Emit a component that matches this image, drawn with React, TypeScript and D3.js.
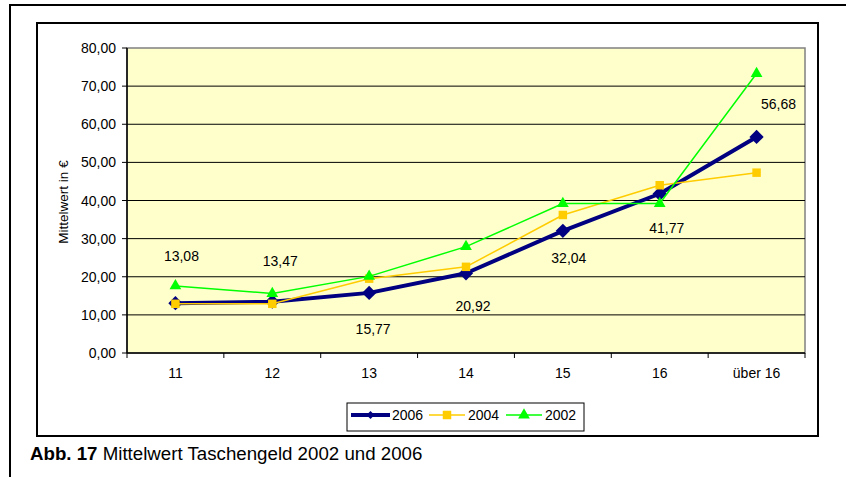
import React, { useEffect, useRef } from 'react'
import * as d3 from 'd3'

// data
const categories = ['11', '12', '13', '14', '15', '16', 'über 16']
const values2006 = [13.08, 13.47, 15.77, 20.92, 32.04, 41.77, 56.68]
const values2004 = [12.9, 12.9, 19.5, 22.6, 36.2, 44.0, 47.3]
const values2002 = [17.6, 15.6, 20.1, 27.9, 39.2, 39.2, 73.3]
const yTicks = [0, 10, 20, 30, 40, 50, 60, 70, 80]

// where Excel put the 2006 data labels, relative to the point
const labelOffsets = [[6, -47], [8, -41], [4, 36], [7, 33], [6, 27], [7, 34], [22, -33]]

const FONT = '"Liberation Sans", Arial, sans-serif'
const W = 846
const H = 477

const de = d3.formatLocale({ decimal: ',', thousands: '.', grouping: [3], currency: ['', '€'] })
const fmt = de.format('.2f')

const App = () => {
    const ref = useRef<SVGSVGElement | null>(null)

    useEffect(() => {
        const svg = d3.select(ref.current)
        svg.selectAll('*').remove()

        const left = 127, right = 805, top = 48, bottom = 353

        const xScale = d3.scaleBand().domain(categories).range([left, right])
        const yScale = d3.scaleLinear().domain([0, 80]).range([bottom, top])
        const cx = (c: string) => (xScale(c) as number) + xScale.bandwidth() / 2

        svg.append('rect').attr('width', W).attr('height', H).attr('fill', '#fff')

        // outer frame (top + left only are visible)
        svg.append('path')
            .attr('d', `M10,${H + 5} L10,5 L${W + 5},5`)
            .attr('fill', 'none')
            .attr('stroke', '#000')
            .attr('stroke-width', 2)

        // chart frame
        svg.append('rect')
            .attr('x', 37).attr('y', 23)
            .attr('width', 818 - 37).attr('height', 436 - 23)
            .attr('fill', '#fff')
            .attr('stroke', '#000')
            .attr('stroke-width', 2)

        // plot area
        svg.append('rect')
            .attr('x', left).attr('y', top)
            .attr('width', right - left).attr('height', bottom - top)
            .attr('fill', '#FFFFCC')
            .attr('stroke', '#808080')
            .attr('stroke-width', 1.5)

        const g = svg.append('g')

        g.selectAll('.grid')
            .data(yTicks.filter(t => t > 0 && t < 80))
            .join('line')
            .attr('x1', left).attr('x2', right)
            .attr('y1', d => yScale(d)).attr('y2', d => yScale(d))
            .attr('stroke', '#000')
            .attr('stroke-width', 1)

        // y axis
        g.append('line')
            .attr('x1', left).attr('x2', left)
            .attr('y1', top).attr('y2', bottom)
            .attr('stroke', '#000').attr('stroke-width', 1.5)
        g.selectAll('.ytick')
            .data(yTicks)
            .join('line')
            .attr('x1', left - 5).attr('x2', left)
            .attr('y1', d => yScale(d)).attr('y2', d => yScale(d))
            .attr('stroke', '#000')
        g.selectAll('.ylab')
            .data(yTicks)
            .join('text')
            .attr('x', 116)
            .attr('y', d => yScale(d))
            .attr('dominant-baseline', 'central')
            .attr('text-anchor', 'end')
            .attr('font-family', FONT)
            .attr('font-size', 14)
            .attr('fill', '#000')
            .text(d => fmt(d))

        g.append('text')
            .attr('transform', 'translate(63,202) rotate(-90)')
            .attr('text-anchor', 'middle')
            .attr('dominant-baseline', 'central')
            .attr('font-family', FONT)
            .attr('font-size', 13.5)
            .text('Mittelwert in €')

        // x axis
        g.append('line')
            .attr('x1', left).attr('x2', right)
            .attr('y1', bottom).attr('y2', bottom)
            .attr('stroke', '#000').attr('stroke-width', 1.5)
        g.selectAll('.xtick')
            .data([...categories.map(c => xScale(c) as number), right])
            .join('line')
            .attr('x1', d => d).attr('x2', d => d)
            .attr('y1', bottom).attr('y2', bottom + 5)
            .attr('stroke', '#000')
        g.selectAll('.xlab')
            .data(categories)
            .join('text')
            .attr('x', d => cx(d))
            .attr('y', 373)
            .attr('text-anchor', 'middle')
            .attr('dominant-baseline', 'central')
            .attr('font-family', FONT)
            .attr('font-size', 14)
            .text(d => d)

        const line = d3.line<number>()
            .x((_, i) => cx(categories[i]))
            .y(d => yScale(d))

        const diamond = d3.symbol().type(d3.symbolDiamond2).size(130)
        const square = d3.symbol().type(d3.symbolSquare).size(72)
        const triangle = d3.symbol().type(d3.symbolTriangle).size(60)

        const series = [
            { values: values2006, color: '#000080', width: 4, symbol: diamond },
            { values: values2004, color: '#FFCC00', width: 1.5, symbol: square },
            { values: values2002, color: '#00FF00', width: 1.5, symbol: triangle },
        ]

        series.forEach(s => {
            g.append('path')
                .datum(s.values)
                .attr('d', line)
                .attr('fill', 'none')
                .attr('stroke', s.color)
                .attr('stroke-width', s.width)
                .attr('stroke-linejoin', 'round')
            g.append('g')
                .selectAll('path')
                .data(s.values)
                .join('path')
                .attr('transform', (d, i) => `translate(${cx(categories[i])},${yScale(d)})`)
                .attr('d', s.symbol())
                .attr('fill', s.color)
        })

        // 2006 data labels
        g.selectAll('.dlab')
            .data(values2006)
            .join('text')
            .attr('x', (d, i) => cx(categories[i]) + labelOffsets[i][0])
            .attr('y', (d, i) => yScale(d) + labelOffsets[i][1])
            .attr('text-anchor', 'middle')
            .attr('dominant-baseline', 'central')
            .attr('font-family', FONT)
            .attr('font-size', 14)
            .text(d => fmt(d))

        // legend
        const lg = svg.append('g')
        lg.append('rect')
            .attr('x', 347).attr('y', 403)
            .attr('width', 584 - 347).attr('height', 431 - 403)
            .attr('fill', '#fff')
            .attr('stroke', '#000')
            .attr('stroke-width', 1)
        const legendNames = ['2006', '2004', '2002']
        const legendX = [351, 429, 506]
        series.forEach((s, i) => {
            const x0 = legendX[i]
            const ly = 415
            lg.append('line')
                .attr('x1', x0).attr('x2', x0 + (i === 0 ? 39 : 36))
                .attr('y1', ly).attr('y2', ly)
                .attr('stroke', s.color)
                .attr('stroke-width', s.width)
            lg.append('path')
                .attr('transform', `translate(${x0 + (i === 0 ? 19.5 : 18)},${ly})`)
                .attr('d', (i === 0 ? d3.symbol().type(d3.symbolDiamond2).size(40) : s.symbol)())
                .attr('fill', s.color)
            lg.append('text')
                .attr('x', x0 + (i === 0 ? 41 : 39))
                .attr('y', ly)
                .attr('dominant-baseline', 'central')
                .attr('font-family', FONT)
                .attr('font-size', 14)
                .text(legendNames[i])
        })

        // caption
        const cap = svg.append('text')
            .attr('x', 30)
            .attr('y', 460)
            .attr('font-family', FONT)
            .attr('font-size', 18.7)
        cap.append('tspan').attr('font-weight', 'bold').text('Abb. 17')
        cap.append('tspan').text(' Mittelwert Taschengeld 2002 und 2006')
    }, [])

    return (
        <div style={{ position: 'absolute', left: 0, top: 0, width: W, height: H }}>
            <svg ref={ref} width={W} height={H} viewBox={`0 0 ${W} ${H}`} style={{ display: 'block' }} />
        </div>
    )
}

export default App
